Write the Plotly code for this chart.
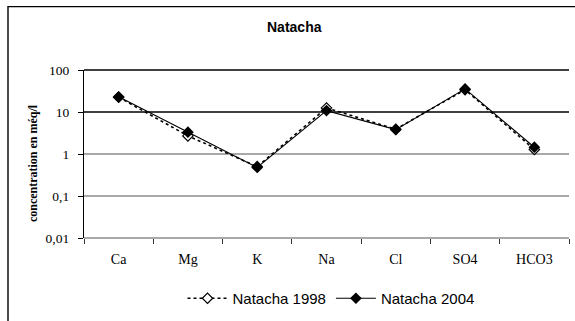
import math
import plotly.graph_objects as go

# Ion concentrations (méq/l) at the Natacha site
ions = ["Ca", "Mg", "K", "Na", "Cl", "SO4", "HCO3"]
natacha_1998 = [22.5, 2.7, 0.5, 12.5, 3.9, 34.0, 1.28]
natacha_2004 = [23.0, 3.3, 0.48, 10.8, 3.8, 35.5, 1.45]

y_tick_values = [0.01, 0.1, 1, 10, 100]
y_tick_labels = ["0,01", "0,1", "1", "10", "100"]
grid_colors = ["#8c8c8c", "#8c8c8c", "#8c8c8c", "#000000", "#000000"]

W, H = 575, 321
L, R, T, B = 84, 6, 70, 76
PW, PH = W - L - R, H - T - B


def px_x(p):
    return (p - L) / PW


def px_y(p):
    return (H - B - p) / PH


fig = go.Figure()

fig.add_trace(go.Scatter(
    x=ions, y=natacha_1998, name="Natacha 1998", mode="lines+markers",
    line=dict(color="black", width=1.6, dash="dot"),
    marker=dict(symbol="diamond", size=8, color="white",
                line=dict(color="black", width=1.2)),
))
fig.add_trace(go.Scatter(
    x=ions, y=natacha_2004, name="Natacha 2004", mode="lines+markers",
    line=dict(color="black", width=1.1),
    marker=dict(symbol="diamond", size=9, color="black",
                line=dict(color="black", width=0)),
))

shapes = []
# horizontal reference lines at each decade
for v, c in zip(y_tick_values, grid_colors):
    yy = (math.log10(v) + 2) / 4
    shapes.append(dict(type="line", xref="x domain", yref="y domain",
                       x0=0, x1=1, y0=yy, y1=yy,
                       line=dict(color=c, width=1.3), layer="below"))
# outer chart frame
shapes.append(dict(type="rect", xref="paper", yref="paper",
                   x0=px_x(8), x1=px_x(620), y0=px_y(4), y1=px_y(360),
                   line=dict(color="black", width=1.4), fillcolor="rgba(0,0,0,0)"))

fig.update_layout(
    width=W, height=H,
    margin=dict(l=L, r=R, t=T, b=B),
    paper_bgcolor="white", plot_bgcolor="white",
    shapes=shapes,
    showlegend=True,
    legend=dict(orientation="h", x=px_x(331), xanchor="center",
                y=px_y(308), yanchor="middle",
                font=dict(family="Liberation Sans", size=15, color="black"),
                bgcolor="rgba(0,0,0,0)", tracegroupgap=0, itemwidth=40),
    annotations=[
        dict(text="<b>Natacha</b>", xref="paper", yref="paper",
             x=px_x(294), y=px_y(25), xanchor="center", yanchor="middle",
             showarrow=False,
             font=dict(family="Liberation Sans", size=14, color="black")),
        dict(text="<b>concentration en méq/l</b>", xref="paper", yref="paper",
             x=px_x(33), y=px_y(167), xanchor="center", yanchor="middle",
             textangle=-90, showarrow=False,
             font=dict(family="Liberation Serif", size=12, color="black")),
    ],
)

fig.update_xaxes(
    type="category", range=[-0.5, len(ions) - 0.5],
    showgrid=False, showline=False, zeroline=False,
    ticks="outside", tickson="boundaries", ticklen=5, tickcolor="#333333",
    tickwidth=1.2, ticklabelstandoff=11,
    tickfont=dict(family="Liberation Serif", size=14, color="black"),
)
fig.update_yaxes(
    type="log", range=[-2, 2],
    tickvals=y_tick_values, ticktext=y_tick_labels,
    showgrid=False, zeroline=False,
    showline=True, linecolor="black", linewidth=1.3,
    ticks="outside", ticklen=5, tickcolor="black", tickwidth=1.2,
    ticklabelstandoff=6,
    tickfont=dict(family="Liberation Serif", size=13.5, color="black"),
)

fig.write_html("out.html")
